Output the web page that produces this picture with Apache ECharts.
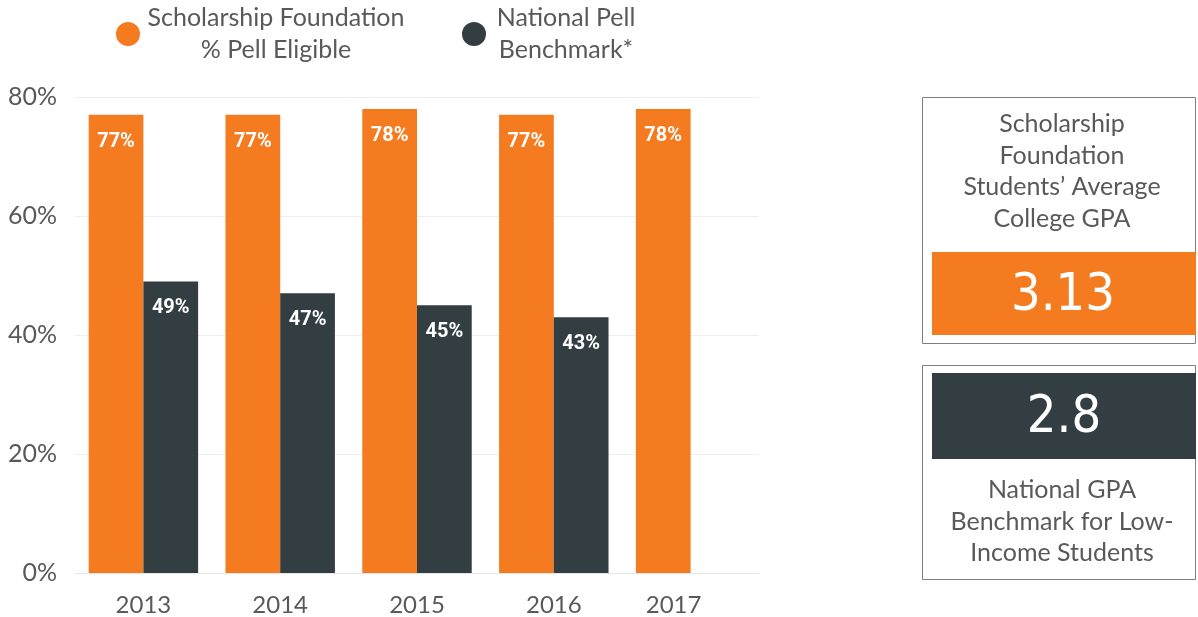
<!DOCTYPE html>
<html>
<head>
<meta charset="utf-8">
<script src="https://cdn.jsdelivr.net/npm/echarts@6/dist/echarts.min.js"></script>
<style>
  html, body { margin: 0; padding: 0; background: #fff; }
  #main { width: 1198px; height: 617px; }
</style>
</head>
<body>
<div id="main"></div>
<script>
const years = ['2013', '2014', '2015', '2016', '2017'];
const foundationPct = [77, 77, 78, 77, 78];
const nationalPct = [49, 47, 45, 43, null];
const yTicks = [0, 20, 40, 60, 80];
const foundationGpa = '3.13';
const nationalGpa = '2.8';

const ORANGE = '#F47B20';
const DARK = '#333E43';
const GREY = '#595959';
const FONT = 'Lato';
const BIG = '"Liberation Sans Narrow", "DejaVu Sans Condensed", Roboto';

const chart = echarts.init(document.getElementById('main'));

const barLabel = {
    show: true,
    position: 'insideTop',
    distance: 17,
    color: '#fff',
    fontFamily: 'Roboto',
    fontWeight: 'bold',
    fontSize: 20,
    formatter: p => p.value + '%'
};

const boxText = (lines, x, y0, step) => lines.map((t, i) => ({
    type: 'text',
    style: {
        x: x, y: y0 + i * step, text: t, textAlign: 'center', textVerticalAlign: 'middle',
        fill: GREY, font: '25px ' + FONT
    }
}));

option = {
    animation: false,
    legend: {
        left: 116,
        top: 2,
        padding: 0,
        icon: 'circle',
        itemWidth: 24,
        itemHeight: 24,
        itemGap: 55,
        itemTextGap: 10,
        textStyle: {
            color: GREY,
            fontFamily: FONT,
            fontSize: 25,
            lineHeight: 32,
            rich: {
                a: { width: 262, align: 'center', fontSize: 25, lineHeight: 32, color: GREY, fontFamily: FONT },
                b: { width: 150, align: 'center', fontSize: 25, lineHeight: 32, color: GREY, fontFamily: FONT }
            }
        },
        formatter: function (name) {
            if (name === 'Scholarship Foundation % Pell Eligible')
                return '{a|Scholarship Foundation}\n{a|% Pell Eligible}';
            return '{b|National Pell}\n{b|Benchmark*}';
        }
    },
    grid: { left: 75, right: 439, top: 97, bottom: 42 },
    xAxis: {
        type: 'category',
        data: years,
        axisTick: { show: false },
        axisLine: { lineStyle: { color: '#e6e6e6' } },
        axisLabel: {
            interval: 0,
            color: GREY, fontFamily: FONT, fontSize: 24, margin: 20,
            // last year has only one bar, so its label sits under that bar
            formatter: (v, i) => i === years.length - 1 ? '{last|' + v + '}' : v,
            rich: { last: { color: GREY, fontFamily: FONT, fontSize: 24, padding: [0, 34, 0, 0] } }
        }
    },
    yAxis: {
        type: 'value',
        min: yTicks[0],
        max: yTicks[yTicks.length - 1],
        interval: 20,
        axisLine: { show: false },
        axisTick: { show: false },
        splitLine: { lineStyle: { color: '#eeeeee' } },
        axisLabel: { color: GREY, fontFamily: FONT, fontSize: 25, margin: 18, formatter: '{value}%' }
    },
    series: [
        {
            name: 'Scholarship Foundation % Pell Eligible',
            type: 'bar',
            data: foundationPct,
            barGap: '0%',
            barCategoryGap: '20%',
            itemStyle: { color: ORANGE },
            label: barLabel
        },
        {
            name: 'National Pell Benchmark*',
            type: 'bar',
            data: nationalPct,
            itemStyle: { color: DARK },
            label: barLabel
        }
    ],
    graphic: [
        { type: 'rect', shape: { x: 922.5, y: 97.5, width: 273, height: 246 },
          style: { fill: '#fff', stroke: '#7f7f7f', lineWidth: 1 } },
        ...boxText(['Scholarship', 'Foundation', 'Students\u2019 Average', 'College GPA'], 1062, 124, 31.5),
        { type: 'rect', shape: { x: 932, y: 252, width: 264, height: 83 }, style: { fill: ORANGE } },
        { type: 'text', style: { x: 1063, y: 296, text: foundationGpa, textAlign: 'center', textVerticalAlign: 'middle',
            fill: '#fff', font: '52px ' + BIG } },
        { type: 'rect', shape: { x: 922.5, y: 365.5, width: 273, height: 214 },
          style: { fill: '#fff', stroke: '#7f7f7f', lineWidth: 1 } },
        { type: 'rect', shape: { x: 932, y: 373, width: 264, height: 86 }, style: { fill: DARK } },
        { type: 'text', style: { x: 1064, y: 418, text: nationalGpa, textAlign: 'center', textVerticalAlign: 'middle',
            fill: '#fff', font: '52px ' + BIG } },
        ...boxText(['National GPA', 'Benchmark for Low-', 'Income Students'], 1062, 490, 31.5)
    ]
};

chart.setOption(option);
</script>
</body>
</html>
